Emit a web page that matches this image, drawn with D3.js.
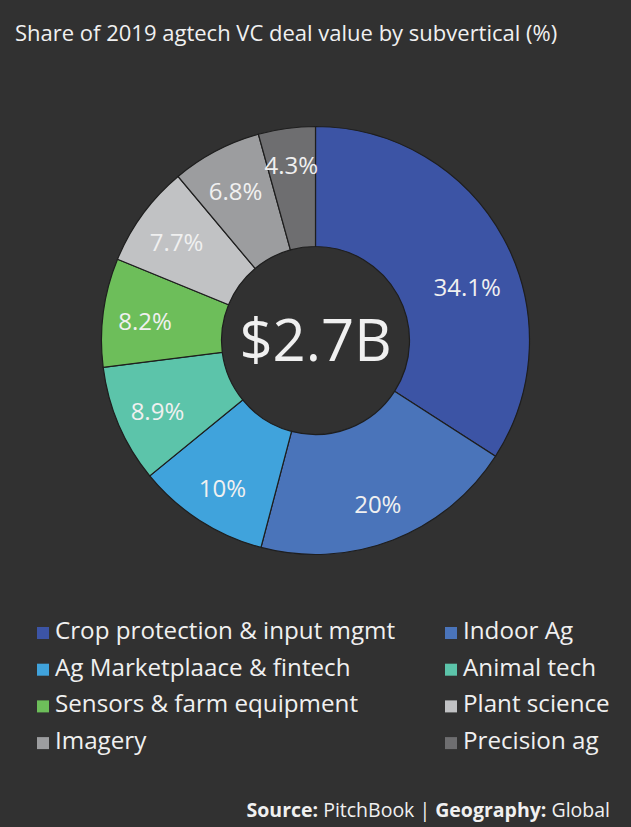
<!DOCTYPE html>
<html>
<head>
<meta charset="utf-8">
<script src="https://cdn.jsdelivr.net/npm/d3@7"></script>
<style>
  body { margin: 0; background: #313131; }
  svg { display: block; font-family: "Open Sans", sans-serif; }
</style>
</head>
<body>
<svg width="631" height="827"></svg>
<script>
var categories = ["Crop protection & input mgmt", "Indoor Ag", "Ag Marketplaace & fintech", "Animal tech",
                  "Sensors & farm equipment", "Plant science", "Imagery", "Precision ag"];
var shares = [34.1, 20, 10, 8.9, 8.2, 7.7, 6.8, 4.3];
var shareLabels = ["34.1%", "20%", "10%", "8.9%", "8.2%", "7.7%", "6.8%", "4.3%"];
var colors = ["#3c54a5", "#4a74ba", "#40a3dc", "#5cc4aa", "#6dbe5a", "#c1c2c4", "#9c9d9f", "#6e6e70"];
var totalLabel = "$2.7B";

var svg = d3.select("svg"),
    width = +svg.attr("width"),
    height = +svg.attr("height");

svg.append("rect").attr("width", width).attr("height", height).attr("fill", "#313131");

svg.append("text")
    .attr("x", 15).attr("y", 41)
    .attr("fill", "#f0f0f0")
    .style("font-size", "22px")
    .text("Share of 2019 agtech VC deal value by subvertical (%)");

var cx = 315.5, cy = 340.5,
    outerR = 214, innerR = 94;

var pie = d3.pie().sort(null).value(function(d) { return d; });
var arc = d3.arc().innerRadius(innerR).outerRadius(outerR);

var g = svg.append("g").attr("transform", "translate(" + cx + "," + cy + ")");
var arcs = pie(shares);

g.selectAll("path")
  .data(arcs)
  .enter().append("path")
    .attr("d", arc)
    .attr("fill", function(d, i) { return colors[i]; })
    .attr("stroke", "#1e1e1e")
    .attr("stroke-width", 1.2);

// label placement: mid angle, big slice label pushed a bit further round (like the source)
function labelPos(d, i) {
  var a = (d.startAngle + d.endAngle) / 2,
      r = 172;
  if (d.endAngle - d.startAngle > 1.5) { a += 0.14; r = 162; }
  if (d.endAngle - d.startAngle < 0.3) r = 180;
  return [r * Math.sin(a), -r * Math.cos(a)];
}

g.selectAll("text.lbl")
  .data(arcs)
  .enter().append("text")
    .attr("class", "lbl")
    .attr("transform", function(d, i) { return "translate(" + labelPos(d, i) + ")"; })
    .attr("text-anchor", "middle")
    .attr("dy", "0.5em")
    .attr("fill", "#f0f0f0")
    .style("font-size", "24px")
    .text(function(d, i) { return shareLabels[i]; });

g.append("text")
    .attr("text-anchor", "middle")
    .attr("dy", "0.36em")
    .attr("fill", "#f0f0f0")
    .style("font-size", "58px")
    .text(totalLabel);

// legend, two columns
var legend = svg.append("g");
var item = legend.selectAll("g")
  .data(categories)
  .enter().append("g")
    .attr("transform", function(d, i) {
      var col = i % 2, row = Math.floor(i / 2);
      return "translate(" + (col ? 445 : 37) + "," + (639 + row * 36.7) + ")";
    });
item.append("rect")
    .attr("x", 0).attr("y", -12)
    .attr("width", 12).attr("height", 12)
    .attr("fill", function(d, i) { return colors[i]; });
item.append("text")
    .attr("x", 18).attr("y", 0)
    .attr("fill", "#f0f0f0")
    .style("font-size", "24.2px")
    .text(function(d) { return d; });

var src = svg.append("text")
    .attr("x", 610).attr("y", 817)
    .attr("text-anchor", "end")
    .attr("fill", "#f0f0f0")
    .style("font-size", "19.5px");
src.append("tspan").style("font-weight", "bold").text("Source:");
src.append("tspan").text(" PitchBook | ");
src.append("tspan").style("font-weight", "bold").text("Geography:");
src.append("tspan").text(" Global");
</script>
</body>
</html>
